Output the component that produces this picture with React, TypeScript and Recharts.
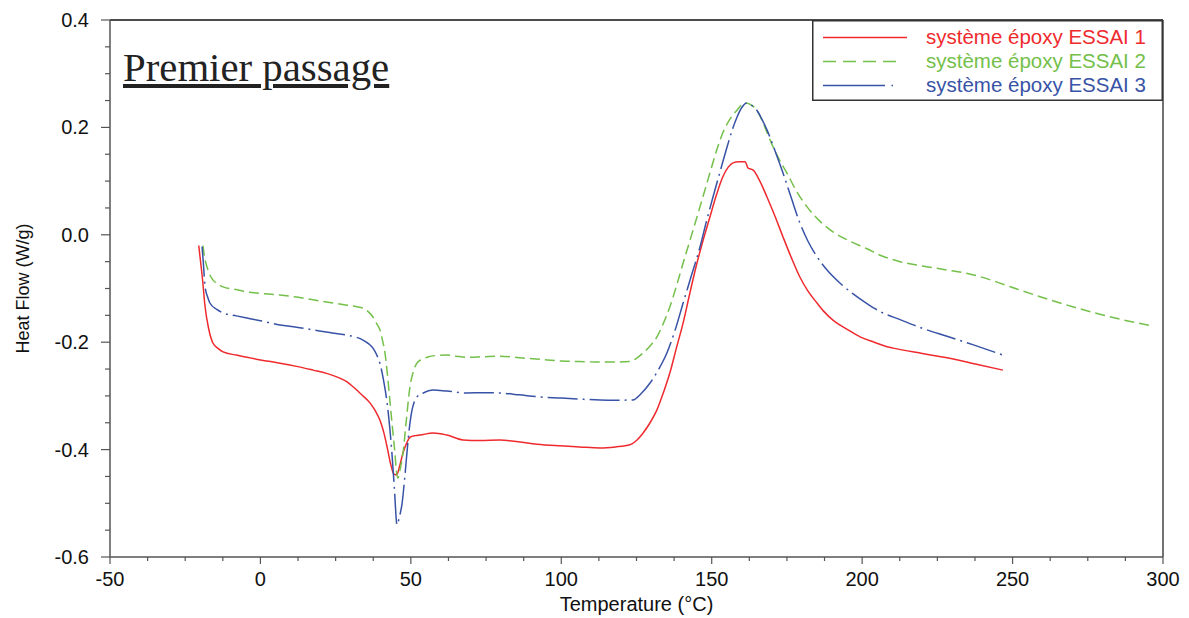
import React from "react";
import { Legend, Line, LineChart, ReferenceLine, XAxis, YAxis } from "recharts";

// DSC first pass, heat flow vs temperature
const essai1 = [
  [-20.5, -0.02], [-20.1, -0.04], [-19.3, -0.08], [-18.4, -0.134], [-17.2, -0.175], [-15.8, -0.2015],
  [-14, -0.212], [-12.4, -0.218], [-8, -0.224], [-4.5, -0.228], [0, -0.233], [6.5, -0.239],
  [12, -0.245], [17.5, -0.252], [22, -0.258], [26.4, -0.267], [28.8, -0.274], [30.8, -0.283],
  [33.5, -0.297], [36.4, -0.313], [38.2, -0.328], [39.7, -0.345], [41, -0.368], [42.1, -0.395],
  [43.2, -0.425], [44.3, -0.445], [45.3, -0.447], [46.3, -0.43], [47.4, -0.406], [48.6, -0.388],
  [49.7, -0.377], [51.5, -0.374], [53, -0.373], [57.4, -0.369], [62, -0.373], [67.3, -0.382],
  [73, -0.383], [79.6, -0.382], [85, -0.385], [92, -0.39], [99.6, -0.393], [106, -0.395],
  [112.9, -0.397], [118, -0.395], [122.8, -0.391], [125, -0.383], [127.2, -0.369], [129.5, -0.35],
  [131.8, -0.326], [134, -0.293], [136.1, -0.257], [138.3, -0.21], [140.5, -0.164], [142.8, -0.107],
  [145.1, -0.0525], [147.3, -0.007], [149.4, 0.033], [151.5, 0.073], [153.7, 0.108], [155.5, 0.126],
  [157.1, 0.134], [159, 0.136], [161.1, 0.136], [162.1, 0.124], [163.7, 0.121], [166, 0.1],
  [168.4, 0.07], [171, 0.035], [173.7, -0.004], [176.5, -0.043], [179.3, -0.0786], [182, -0.105],
  [185, -0.127], [187.5, -0.144], [190.3, -0.159], [195, -0.176], [199.3, -0.19], [204, -0.2],
  [208, -0.208], [210.3, -0.211], [220, -0.221], [228.2, -0.229], [238, -0.241], [246.8, -0.252],
];

const essai2 = [
  [-19.1, -0.02], [-18.6, -0.04], [-17.4, -0.066], [-15.8, -0.084], [-14, -0.092], [-12.4, -0.097],
  [-8, -0.102], [-4.5, -0.1065], [0, -0.109], [6.5, -0.112], [12, -0.116], [17.5, -0.121],
  [23, -0.126], [28.8, -0.131], [32, -0.134], [34.1, -0.137], [36, -0.144], [37.4, -0.153],
  [38.6, -0.165], [39.7, -0.177], [40.6, -0.197], [41.4, -0.22], [42.3, -0.265], [43.1, -0.313],
  [43.9, -0.36], [44.7, -0.406], [45.2, -0.44], [45.7, -0.453], [46.5, -0.435], [47.4, -0.406],
  [48.5, -0.345], [49.7, -0.283], [50.8, -0.255], [52, -0.239], [53.6, -0.232], [55.4, -0.228],
  [58, -0.225], [62, -0.224], [65, -0.226], [68.7, -0.228], [74, -0.227], [79.6, -0.226],
  [86, -0.229], [93, -0.232], [100, -0.235], [106, -0.236], [112.9, -0.237], [118, -0.237],
  [122.8, -0.236], [125, -0.23], [127.2, -0.22], [129.5, -0.207], [131.8, -0.19], [134, -0.164],
  [136.1, -0.134], [138.3, -0.095], [140.5, -0.0525], [142.8, -0.01], [145.1, 0.033], [147.3, 0.075],
  [149.4, 0.115], [151.5, 0.155], [153.7, 0.19], [156, 0.215], [158.4, 0.232], [160, 0.242],
  [161.7, 0.245], [163.3, 0.241], [165, 0.232], [167.2, 0.207], [169.4, 0.1765], [172, 0.145],
  [175, 0.115], [178, 0.083], [181.7, 0.052], [186, 0.025], [190.3, 0.0054], [196, -0.012],
  [201.6, -0.026], [206, -0.038], [212.6, -0.05], [220, -0.058], [228.2, -0.0655], [235, -0.072],
  [239.2, -0.078], [245.8, -0.09], [252.5, -0.103], [262.4, -0.121], [270, -0.134], [279, -0.148],
  [288, -0.16], [296.7, -0.17],
];

const essai3 = [
  [-19.4, -0.022], [-19, -0.05], [-18.4, -0.097], [-17.6, -0.115], [-16.8, -0.127], [-14.5, -0.139],
  [-12.4, -0.1456], [-8, -0.151], [-4.5, -0.155], [0, -0.16], [6.5, -0.168], [12, -0.172],
  [17.5, -0.177], [23, -0.182], [28.8, -0.187], [32, -0.191], [34.1, -0.196], [36, -0.203],
  [37.4, -0.211], [38.6, -0.223], [39.7, -0.239], [40.9, -0.27], [42.1, -0.313], [43, -0.36],
  [43.7, -0.406], [44.5, -0.47], [45.4, -0.54], [46.2, -0.525], [47.1, -0.4995], [48, -0.45],
  [48.7, -0.406], [49.5, -0.36], [50.4, -0.326], [51.2, -0.31], [52, -0.302], [54, -0.295],
  [57.4, -0.289], [62, -0.291], [68.7, -0.2946], [74, -0.294], [79.6, -0.2946], [86, -0.298],
  [93, -0.302], [100, -0.304], [106, -0.306], [112.9, -0.3076], [118, -0.308], [123.8, -0.3076],
  [126.5, -0.296], [129.5, -0.276], [132.3, -0.251], [135.1, -0.22], [137.8, -0.178], [140.5, -0.127],
  [143.3, -0.075], [146.1, -0.0227], [148.2, 0.024], [150.4, 0.07], [152.8, 0.118], [155.1, 0.1635],
  [156.8, 0.195], [158.4, 0.219], [160, 0.237], [161.7, 0.2454], [163.3, 0.241], [165, 0.232],
  [166.7, 0.215], [168.4, 0.195], [171, 0.157], [173.7, 0.115], [176.5, 0.068], [179.3, 0.022],
  [182, -0.012], [185, -0.041], [188.7, -0.068], [192.6, -0.0898], [197, -0.11], [201.6, -0.128],
  [206, -0.143], [212.6, -0.158], [220, -0.174], [228.2, -0.189], [237, -0.205], [246.8, -0.224],
];

const seriesNames = ["système époxy ESSAI 1", "système époxy ESSAI 2", "système époxy ESSAI 3"];
const seriesColors = ["#ef2a2e", "#74c04a", "#3853a6"];

const xTicks = [
  -50, -37.5, -25, -12.5, 0, 12.5, 25, 37.5, 50, 62.5, 75, 87.5, 100, 112.5, 125, 137.5,
  150, 162.5, 175, 187.5, 200, 212.5, 225, 237.5, 250, 262.5, 275, 287.5, 300,
];
const yTicks = [
  -0.6, -0.55, -0.5, -0.45, -0.4, -0.35, -0.3, -0.25, -0.2, -0.15, -0.1, -0.05,
  0, 0.05, 0.1, 0.15, 0.2, 0.25, 0.3, 0.35, 0.4,
];

const toRows = (pts: number[][]) => pts.map(([t, hf]) => ({ t, hf }));

const FONT = "'Liberation Sans', Arial, sans-serif";
const AXIS = "#555";

function XTick({ x, y, payload }: any) {
  const v = payload.value;
  const major = Math.abs(v % 50) < 1e-6;
  return (
    <g>
      <line x1={x} x2={x} y1={y} y2={y + (major ? 7 : 4)} stroke={AXIS} strokeWidth={1.2} />
      {major && (
        <text x={x} y={y + 29} textAnchor="middle" fontSize={20} fontFamily={FONT} fill="#111">
          {v}
        </text>
      )}
    </g>
  );
}

function YTick({ x, y, payload }: any) {
  const v = payload.value;
  const major = Math.abs(Math.round(v * 5) - v * 5) < 1e-6;
  return (
    <g>
      <line x1={x - (major ? 9 : 5)} x2={x} y1={y} y2={y} stroke={AXIS} strokeWidth={1.2} />
      {major && (
        <text x={x - 21} y={y + 7} textAnchor="end" fontSize={20} fontFamily={FONT} fill="#111">
          {v.toFixed(1)}
        </text>
      )}
    </g>
  );
}

function LegendBox() {
  const rows = [17.5, 41.5, 65.5];
  return (
    <svg width={351} height={81} style={{ display: "block" }}>
      <rect x={0.75} y={0.75} width={349.5} height={79.5} fill="#fff" stroke="#333" strokeWidth={1.5} />
      <line x1={11} x2={95} y1={rows[0]} y2={rows[0]} stroke={seriesColors[0]} strokeWidth={1.6} />
      <line x1={11} x2={84} y1={rows[1]} y2={rows[1]} stroke={seriesColors[1]} strokeWidth={1.6} strokeDasharray="13 7" />
      <line x1={11} x2={73} y1={rows[2]} y2={rows[2]} stroke={seriesColors[2]} strokeWidth={1.6} />
      <line x1={79.5} x2={81} y1={rows[2]} y2={rows[2]} stroke={seriesColors[2]} strokeWidth={1.6} />
      {seriesNames.map((n, i) => (
        <text key={n} x={114} y={rows[i] + 6.5} fontSize={20.5} fontFamily={FONT} fill={seriesColors[i]}>
          {n}
        </text>
      ))}
    </svg>
  );
}

export default function App() {
  return (
    <div style={{ position: "absolute", left: 0, top: 0, width: 1189, height: 618, background: "#fff" }}>
      <LineChart width={1189} height={618} margin={{ top: 20, right: 26, bottom: 0, left: 0 }}>
        <XAxis
          type="number"
          dataKey="t"
          domain={[-50, 300]}
          ticks={xTicks}
          interval={0}
          height={61}
          tickSize={0}
          tickMargin={0}
          tickLine={false}
          tick={<XTick />}
          axisLine={{ stroke: AXIS, strokeWidth: 1.5 }}
          allowDataOverflow
          label={{
            value: "Temperature (°C)",
            position: "insideBottom",
            offset: 7,
            fontSize: 20,
            fontFamily: FONT,
            fill: "#111",
          }}
        />
        <YAxis
          type="number"
          domain={[-0.6, 0.4]}
          ticks={yTicks}
          interval={0}
          width={110}
          tickSize={0}
          tickMargin={0}
          tickLine={false}
          tick={<YTick />}
          axisLine={{ stroke: AXIS, strokeWidth: 1.5 }}
          allowDataOverflow
          label={({ viewBox }: any) => {
            const cx = viewBox.x + 23;
            const cy = viewBox.y + viewBox.height / 2;
            return (
              <text
                x={cx}
                y={cy}
                transform={`rotate(-90 ${cx} ${cy})`}
                textAnchor="middle"
                dominantBaseline="central"
                fontSize={18}
                fontFamily={FONT}
                fill="#111"
              >
                Heat Flow (W/g)
              </text>
            );
          }}
        />
        <ReferenceLine y={0.4} stroke="#111" strokeWidth={1.5} />
        <ReferenceLine x={300} stroke="#444" strokeWidth={1.5} />
        <Line
          data={toRows(essai1)}
          dataKey="hf"
          name={seriesNames[0]}
          type="monotone"
          stroke={seriesColors[0]}
          strokeWidth={1.5}
          dot={false}
          isAnimationActive={false}
        />
        <Line
          data={toRows(essai2)}
          dataKey="hf"
          name={seriesNames[1]}
          type="monotone"
          stroke={seriesColors[1]}
          strokeWidth={1.5}
          strokeDasharray="10 5"
          dot={false}
          isAnimationActive={false}
        />
        <Line
          data={toRows(essai3)}
          dataKey="hf"
          name={seriesNames[2]}
          type="monotone"
          stroke={seriesColors[2]}
          strokeWidth={1.5}
          strokeDasharray="30 5 2 5"
          dot={false}
          isAnimationActive={false}
        />
        <Legend
          layout="horizontal"
          verticalAlign="middle"
          align="center"
          content={() => <LegendBox />}
          wrapperStyle={{ left: 812, top: 20, width: 351, height: 81, right: "auto", bottom: "auto" }}
        />
      </LineChart>
      <div
        style={{
          position: "absolute",
          left: 123,
          top: 48,
          fontFamily: "'Liberation Serif', 'Times New Roman', serif",
          fontSize: 40.8,
          lineHeight: "40px",
          color: "#222",
          textDecoration: "underline",
          whiteSpace: "nowrap",
        }}
      >
        Premier passage
      </div>
    </div>
  );
}
